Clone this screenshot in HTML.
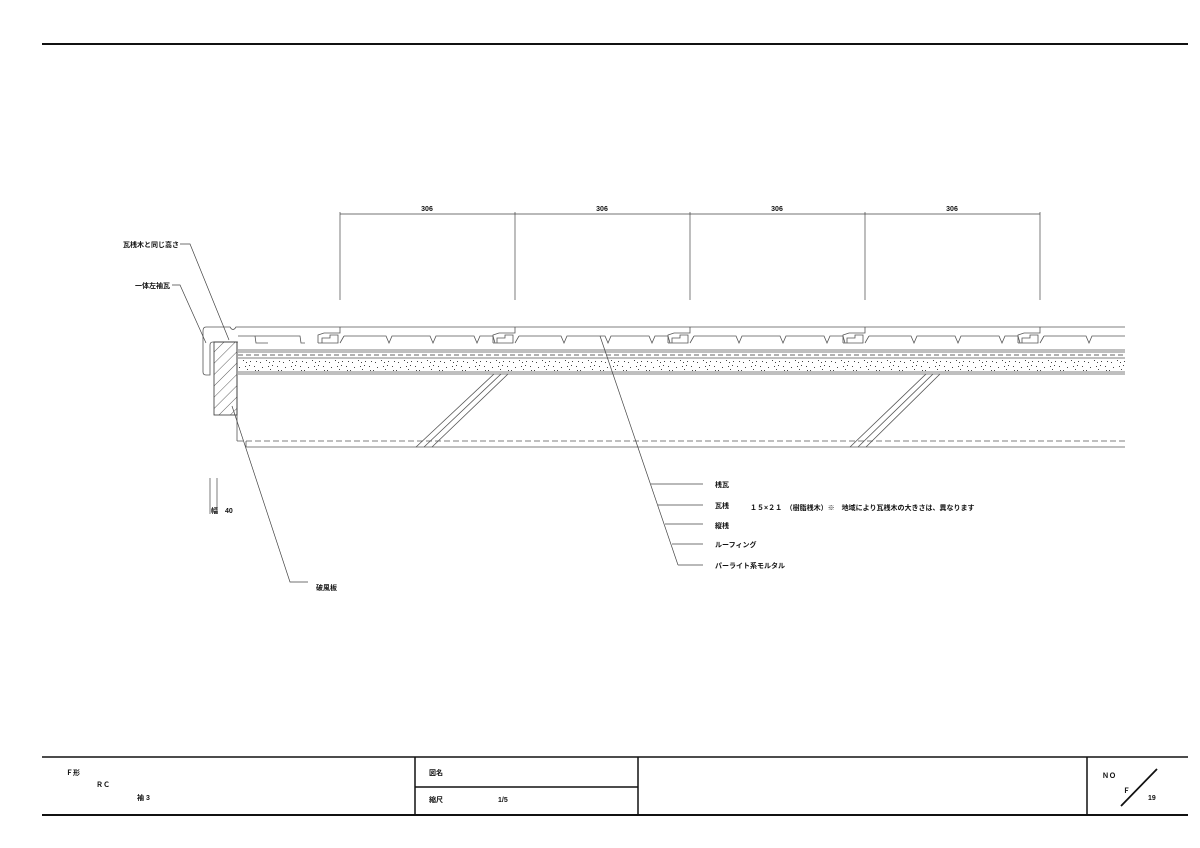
<!DOCTYPE html>
<html><head><meta charset="utf-8"><style>
html,body{margin:0;padding:0;background:#fff}
svg{display:block}
text{font-family:"Liberation Sans","Noto Sans CJK JP",sans-serif;fill:#111;font-weight:bold}
</style></head><body>
<svg width="1200" height="848" viewBox="0 0 1200 848" xmlns="http://www.w3.org/2000/svg">
<defs>
<pattern id="hatch" width="8" height="8" patternUnits="userSpaceOnUse" patternTransform="rotate(45)">
<line x1="0" y1="0" x2="0" y2="8" stroke="#333" stroke-width="0.8"/>
</pattern>
<pattern id="dots" width="23" height="13" patternUnits="userSpaceOnUse">
<g fill="#444">
<rect x="1" y="2" width="1" height="1"/><rect x="5" y="6" width="1" height="1"/><rect x="9" y="3" width="1" height="1"/>
<rect x="13" y="9" width="1" height="1"/><rect x="17" y="5" width="1" height="1"/><rect x="20" y="10" width="1" height="1"/>
<rect x="3" y="10" width="1" height="1"/><rect x="11" y="7" width="1" height="1"/><rect x="15" y="2" width="1" height="1"/>
<rect x="7" y="11" width="1" height="1"/><rect x="19" y="1" width="1" height="1"/><rect x="22" y="7" width="1" height="1"/>
<rect x="2" y="6" width="1" height="1"/><rect x="16" y="11" width="1" height="1"/>
</g>
</pattern>
<clipPath id="cl"><rect x="0" y="0" width="1125" height="848"/></clipPath>
</defs>
<line x1="42" y1="44" x2="1188" y2="44" stroke="#111" stroke-width="2"/>

<g stroke="#444" stroke-width="0.7" fill="none">
<line x1="340" y1="214" x2="1040" y2="214"/>
<line x1="340" y1="212" x2="340" y2="300"/>
<line x1="515" y1="212" x2="515" y2="300"/>
<line x1="690" y1="212" x2="690" y2="300"/>
<line x1="865" y1="212" x2="865" y2="300"/>
<line x1="1040" y1="212" x2="1040" y2="300"/>
</g>
<g font-size="7" text-anchor="middle">
<text x="427" y="211">306</text><text x="602" y="211">306</text><text x="777" y="211">306</text><text x="952" y="211">306</text>
</g>

<g stroke="#555" stroke-width="0.8" fill="none" clip-path="url(#cl)">
<path d="M206,327 Q203,327 203,331 L203,372 Q203,375 206,375 L210,375 L210,345 Q210,342 213,342 L238,342"/>
<path d="M206,327 L230,327 Q233,332 236,327 L1125,327"/>
<path d="M238,336 L255,336 L256,343 L268,343 M254,336 L300,336 L301,343 L305,343"/>
<g id="tp">
<path d="M318,343 L318,335 L324,333 L340,333 L340,327 M322,343 L322,338 L330,338 L330,335 L338,335 L338,343 L318,343 M344,336 L340,343 M344,336 L386,336 L389,343 L392,336 L430,336 L433,343 L436,336 L474,336 L477,343 L480,336 L493,336 L495,343"/>
</g>
<use href="#tp" x="175"/><use href="#tp" x="350"/><use href="#tp" x="525"/><use href="#tp" x="700"/>
<line x1="238" y1="350" x2="1125" y2="350"/>
<line x1="238" y1="352" x2="1125" y2="352"/>
<line x1="238" y1="355" x2="1125" y2="355" stroke-dasharray="5,3" stroke="#333"/>
<line x1="238" y1="358" x2="1125" y2="358"/>
<line x1="238" y1="372" x2="1125" y2="372"/>
<line x1="238" y1="374" x2="1125" y2="374"/>
<line x1="237" y1="342" x2="237" y2="441"/>
<line x1="237" y1="441" x2="1125" y2="441" stroke-dasharray="6,3"/>
<line x1="246" y1="441" x2="246" y2="447"/>
<line x1="246" y1="447" x2="1125" y2="447"/>
<line x1="416" y1="447" x2="494" y2="374"/>
<line x1="424" y1="447" x2="501" y2="374"/>
<line x1="432" y1="447" x2="508" y2="374"/>
<line x1="850" y1="447" x2="926" y2="374"/>
<line x1="858" y1="447" x2="933" y2="374"/>
<line x1="866" y1="447" x2="940" y2="374"/>
</g>
<rect x="238" y="359" width="887" height="12" fill="url(#dots)"/>
<rect x="214" y="342" width="23" height="73" fill="url(#hatch)" stroke="#333" stroke-width="0.8"/>

<g stroke="#444" stroke-width="0.7" fill="none">
<polyline points="180,244 190,244 229,340"/>
<polyline points="172,285 180,285 206,343"/>
<polyline points="232,406 290,582 308,582"/>
<polyline points="600,336 678,565"/>
<line x1="651" y1="484" x2="703" y2="484"/>
<line x1="658" y1="505" x2="703" y2="505"/>
<line x1="665" y1="524" x2="703" y2="524"/>
<line x1="672" y1="544" x2="703" y2="544"/>
<line x1="678" y1="565" x2="703" y2="565"/>
<line x1="210" y1="478" x2="210" y2="514"/>
<line x1="217" y1="478" x2="217" y2="514"/>
</g>
<g font-size="7">
<text x="123" y="247">瓦桟木と同じ高さ</text>
<text x="135" y="288">一体左袖瓦</text>
<text x="316" y="590">破風板</text>
<text x="211" y="513">幅　40</text>
<text x="715" y="487">桟瓦</text>
<text x="715" y="508">瓦桟</text>
<text x="750" y="510">１５×２１　（樹脂桟木）※　地域により瓦桟木の大きさは、異なります</text>
<text x="715" y="528">縦桟</text>
<text x="715" y="547">ルーフィング</text>
<text x="715" y="568">パーライト系モルタル</text>
</g>

<g stroke="#111" fill="none">
<line x1="42" y1="757" x2="1188" y2="757" stroke-width="1.5"/>
<line x1="42" y1="815" x2="1188" y2="815" stroke-width="2"/>
<line x1="415" y1="757" x2="415" y2="815" stroke-width="1.5"/>
<line x1="638" y1="757" x2="638" y2="815" stroke-width="1.5"/>
<line x1="415" y1="787" x2="638" y2="787" stroke-width="1.5"/>
<line x1="1087" y1="757" x2="1087" y2="815" stroke-width="1.5"/>
<line x1="1121" y1="806" x2="1157" y2="769" stroke-width="1.8"/>
</g>
<g font-size="7">
<text x="66" y="775">Ｆ形</text>
<text x="96" y="787">ＲＣ</text>
<text x="137" y="800">袖 3</text>
<text x="429" y="775">図名</text>
<text x="429" y="802">縮尺</text>
<text x="498" y="802">1/5</text>
<text x="1102" y="778">ＮＯ</text>
<text x="1123" y="793">Ｆ</text>
<text x="1148" y="800">19</text>
</g>
</svg>
</body></html>
